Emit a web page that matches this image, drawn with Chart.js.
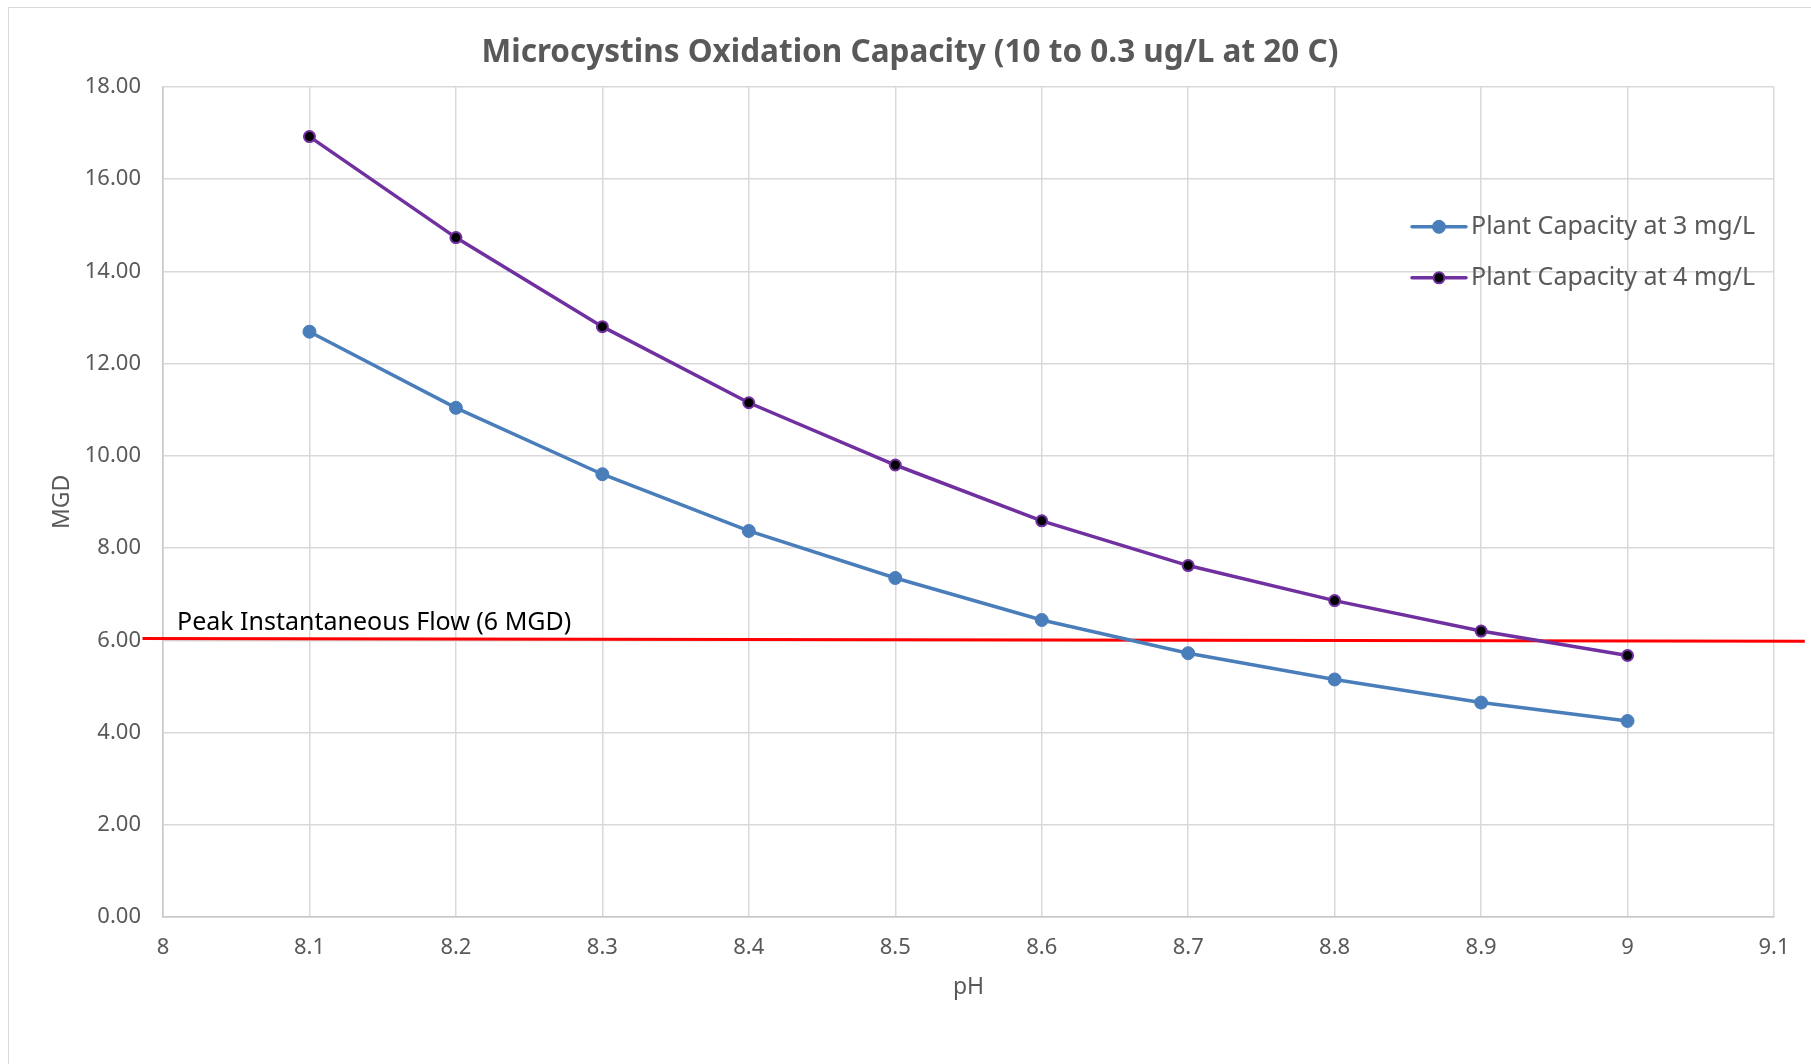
<!DOCTYPE html>
<html>
<head>
<meta charset="utf-8">
<script src="https://cdn.jsdelivr.net/npm/chart.js@4.4.1/dist/chart.umd.min.js"></script>
<style>
  html, body { margin: 0; padding: 0; background: #ffffff; overflow: hidden; }
  #wrap { position: relative; width: 1811px; height: 1064px; }
  #frame { position: absolute; left: 8px; top: 7px; width: 1900px; height: 1200px; border: 1.5px solid #d9d9d9; box-sizing: border-box; }
  #c { position: absolute; left: 0; top: 0; }
</style>
</head>
<body>
<div id="wrap">
  <div id="frame"></div>
  <canvas id="c" width="1811" height="1064"></canvas>
</div>
<script>
// ---- data ----
const phValues = [8.1, 8.2, 8.3, 8.4, 8.5, 8.6, 8.7, 8.8, 8.9, 9.0];
const capacity3 = [12.69, 11.04, 9.60, 8.37, 7.35, 6.44, 5.72, 5.15, 4.65, 4.25];
const capacity4 = [16.92, 14.73, 12.80, 11.15, 9.80, 8.59, 7.62, 6.86, 6.20, 5.67];
const peakFlowX = [7.986, 9.121];
const peakFlowY = [6.04, 5.98];
const xTicks = [8, 8.1, 8.2, 8.3, 8.4, 8.5, 8.6, 8.7, 8.8, 8.9, 9, 9.1];
const yTicks = [0, 2, 4, 6, 8, 10, 12, 14, 16, 18];
const seriesNames = ['Plant Capacity at 3 mg/L', 'Plant Capacity at 4 mg/L'];
const titleText = 'Microcystins Oxidation Capacity (10 to 0.3 ug/L at 20 C)';
const peakLabel = 'Peak Instantaneous Flow (6 MGD)';

const FONT = "'Noto Sans', 'Open Sans', sans-serif";
const GRAY = '#595959';

const toXY = (xs, ys) => xs.map((x, i) => ({ x: x, y: ys[i] }));

const overlayPlugin = {
  id: 'overlay',
  afterDatasetsDraw(chart) {
    const ctx = chart.ctx;
    const ca = chart.chartArea;
    const ys = chart.scales.y;
    // peak flow label
    ctx.save();
    ctx.font = "25px " + FONT;
    ctx.fillStyle = '#000000';
    ctx.textAlign = 'left';
    ctx.textBaseline = 'middle';
    ctx.fillText(peakLabel, ca.left + 14, ys.getPixelForValue(6) - 17);
    ctx.restore();
    // legend
    const legendSets = chart.data.datasets.filter(d => d.showInLegend);
    legendSets.forEach((ds, i) => {
      const y = ca.top + 140 + i * 51;
      const x0 = ca.right - 362;
      ctx.save();
      ctx.strokeStyle = ds.borderColor;
      ctx.lineWidth = ds.borderWidth;
      ctx.lineCap = 'round';
      ctx.beginPath();
      ctx.moveTo(x0, y);
      ctx.lineTo(x0 + 54, y);
      ctx.stroke();
      ctx.beginPath();
      ctx.arc(x0 + 27, y, ds.pointRadius, 0, Math.PI * 2);
      ctx.fillStyle = ds.pointBackgroundColor;
      ctx.fill();
      ctx.lineWidth = ds.pointBorderWidth;
      ctx.strokeStyle = ds.pointBorderColor;
      ctx.stroke();
      ctx.font = "25px " + FONT;
      ctx.fillStyle = GRAY;
      ctx.textAlign = 'left';
      ctx.textBaseline = 'middle';
      ctx.fillText(ds.label, x0 + 59, y);
      ctx.restore();
    });
  }
};

new Chart(document.getElementById('c'), {
  type: 'scatter',
  data: {
    datasets: [
      {
        label: 'Peak',
        data: toXY(peakFlowX, peakFlowY),
        showLine: true,
        borderColor: '#ff0000',
        borderWidth: 3,
        pointRadius: 0,
        clip: false,
        showInLegend: false,
        order: 3
      },
      {
        label: seriesNames[0],
        data: toXY(phValues, capacity3),
        showLine: true,
        borderColor: '#4a7ebb',
        borderWidth: 3.5,
        pointRadius: 6.5,
        pointBackgroundColor: '#4a7ebb',
        pointBorderColor: '#4a7ebb',
        pointBorderWidth: 1,
        showInLegend: true,
        order: 2
      },
      {
        label: seriesNames[1],
        data: toXY(phValues, capacity4),
        showLine: true,
        borderColor: '#7030a0',
        borderWidth: 3.5,
        pointRadius: 5.5,
        pointBackgroundColor: '#000000',
        pointBorderColor: '#7030a0',
        pointBorderWidth: 2,
        showInLegend: true,
        order: 1
      }
    ]
  },
  options: {
    responsive: false,
    animation: false,
    devicePixelRatio: 1,
    layout: { padding: { left: 46, right: 37, top: 0, bottom: 0 } },
    plugins: {
      legend: { display: false },
      tooltip: { enabled: false },
      title: {
        display: true,
        text: titleText,
        color: GRAY,
        font: { family: FONT, size: 31.5, weight: 'bold', lineHeight: 1.2 },
        padding: { top: 34, bottom: 15 }
      }
    },
    scales: {
      x: {
        type: 'linear',
        min: 8,
        max: 9.1,
        afterBuildTicks: s => { s.ticks = xTicks.map(v => ({ value: v })); },
        afterFit: s => { s.height = 147; },
        ticks: {
          color: GRAY,
          padding: 18,
          maxRotation: 0,
          autoSkip: false,
          font: { family: FONT, size: 22 },
          callback: v => String(Number(v.toFixed(1)))
        },
        grid: { color: '#d9d9d9', lineWidth: 1.5, drawTicks: false },
        border: { color: '#c8c8c8', width: 1.5 },
        title: {
          display: true,
          text: 'pH',
          color: GRAY,
          font: { family: FONT, size: 23 },
          padding: { top: 0, bottom: 63 }
        }
      },
      y: {
        type: 'linear',
        min: 0,
        max: 18,
        afterBuildTicks: s => { s.ticks = yTicks.map(v => ({ value: v })); },
        afterFit: s => { s.width = 117; },
        ticks: {
          color: GRAY,
          padding: 22,
          font: { family: FONT, size: 22 },
          callback: v => v.toFixed(2)
        },
        grid: { color: '#d9d9d9', lineWidth: 1.5, drawTicks: false },
        border: { color: '#c8c8c8', width: 1.5 },
        title: {
          display: true,
          text: 'MGD',
          color: GRAY,
          font: { family: FONT, size: 23 },
          padding: { top: 3, bottom: 0 }
        }
      }
    }
  },
  plugins: [overlayPlugin]
});
</script>
</body>
</html>
